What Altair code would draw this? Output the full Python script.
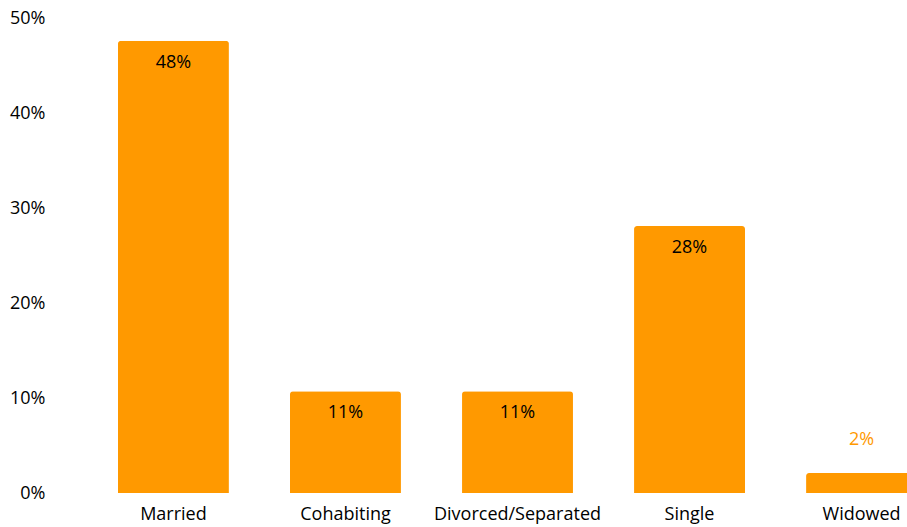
import altair as alt
import pandas as pd

categories = ["Married", "Cohabiting", "Divorced/Separated", "Single", "Widowed"]
values = [47.6, 10.7, 10.7, 28.1, 2.1]
labels = ["48%", "11%", "11%", "28%", "2%"]
inside = [True, True, True, True, False]

df = pd.DataFrame({"cat": categories, "val": values, "lab": labels, "inside": inside})

ORANGE = "#FF9900"
FONT = "Open Sans"

x = alt.X("cat:N", sort=categories, title=None,
          scale=alt.Scale(range=[0, 915], paddingInner=0.355, paddingOuter=0.337),
          axis=alt.Axis(labelAngle=0, domain=False, ticks=False, labelPadding=12,
                        labelFontSize=18, labelColor="#000000", labelFont=FONT))
y = alt.Y("val:Q", title=None,
          scale=alt.Scale(domain=[0, 50], nice=False),
          axis=alt.Axis(values=[0, 10, 20, 30, 40, 50], labelExpr="datum.value + '%'",
                        domain=False, ticks=False, grid=False, labelPadding=15,
                        labelFontSize=18, labelColor="#000000", labelFont=FONT))

base = alt.Chart(df)
bars = base.mark_bar(color=ORANGE, cornerRadiusTopLeft=3, cornerRadiusTopRight=3).encode(x=x, y=y)
txt_in = base.transform_filter("datum.inside").mark_text(
    baseline="middle", dy=22, fontSize=18, font=FONT, color="#000000"
).encode(x=alt.X("cat:N", sort=categories), y="val:Q", text="lab:N")
txt_out = base.transform_filter("!datum.inside").mark_text(
    baseline="middle", dy=-33, fontSize=18, font=FONT, color=ORANGE
).encode(x=alt.X("cat:N", sort=categories), y="val:Q", text="lab:N")

chart = alt.layer(bars, txt_in, txt_out).properties(
    width=847, height=475,
    autosize=alt.AutoSizeParams(type="none"),
    padding={"left": 60, "top": 18, "right": 0, "bottom": 34},
).configure_view(stroke=None)

chart.save("out.html", embed_options={"renderer": "svg", "actions": False})
